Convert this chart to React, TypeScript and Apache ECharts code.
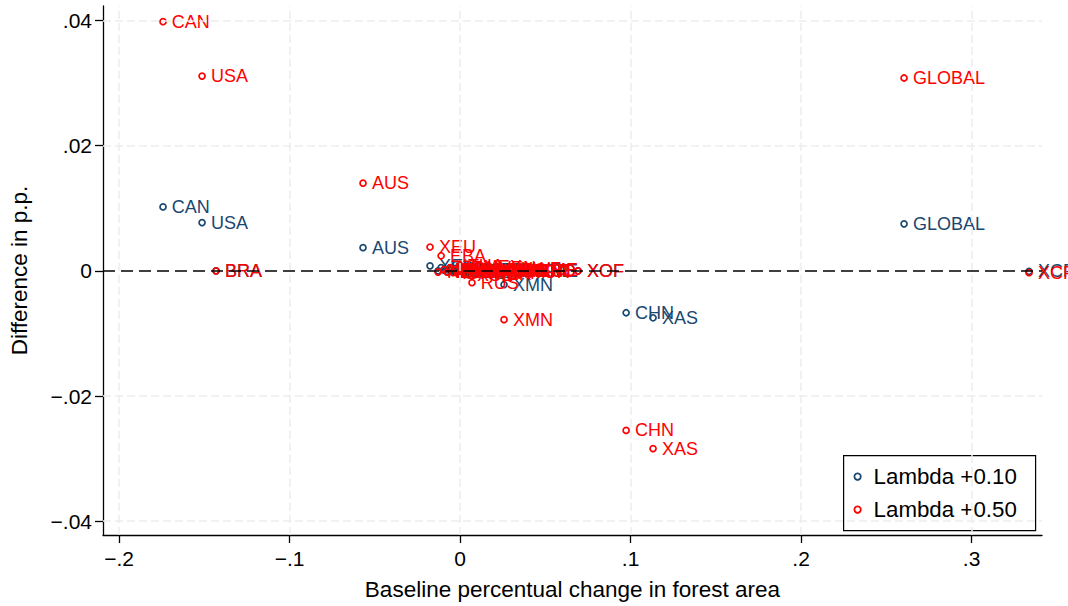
import React, { useEffect, useRef } from "react";
import * as echarts from "echarts";

// Region codes
const regions = [
  "CAN", "USA", "GLOBAL", "AUS", "XEU", "EBA", "BRA", "RUS", "XMN", "CHN", "XAS", "XCF", "XOF", "IND",
  "NZL", "JPN", "KOR", "XEA", "IDN", "MYS", "THA", "VNM", "PHL", "XSE", "XSA", "MEX", "ARG",
  "COL", "PER", "VEN", "XSM", "ZAF", "XSS", "XNF", "XWF", "XEC", "TUR", "XME",
];
// Baseline percentual change in forest area (x)
const baseline = [
  -0.1742, -0.1513, 0.2604, -0.0569, -0.0176, -0.0111, -0.1431, 0.0070, 0.0258, 0.0974, 0.1132, 0.3337, 0.0692, 0.0446,
  -0.0129, -0.0094, -0.0076, -0.0059, -0.0041, -0.0023, -0.0006, 0.0012, 0.0029, 0.0047, 0.0065, 0.0082, 0.0106,
  0.0129, 0.0152, 0.0176, 0.0199, 0.0223, 0.0246, 0.0276, 0.0305, 0.0340, 0.0375, 0.0411,
];
// Difference in p.p., Lambda +0.10
const diffLambda10 = [
  0.0102, 0.0077, 0.0075, 0.0037, 0.0008, 0.0005, 0.0000, -0.0004, -0.0022, -0.0067, -0.0075, -0.0001, 0.0000, 0.0000,
  0.0000, 0.0001, -0.0001, 0.0001, -0.0001, 0.0000, 0.0002, 0.0000, 0.0001, -0.0002, 0.0001, 0.0002, -0.0001,
  0.0000, -0.0001, 0.0001, 0.0000, -0.0001, 0.0000, -0.0001, 0.0001, 0.0000, -0.0001, 0.0000,
];
// Difference in p.p., Lambda +0.50
const diffLambda50 = [
  0.0398, 0.0311, 0.0308, 0.0140, 0.0038, 0.0024, 0.0000, -0.0019, -0.0078, -0.0255, -0.0284, -0.0003, 0.0000, 0.0000,
  -0.0002, 0.0002, -0.0002, 0.0005, -0.0003, 0.0002, 0.0008, -0.0002, 0.0003, -0.0006, 0.0002, 0.0006, -0.0002,
  0.0002, -0.0005, 0.0005, 0.0000, -0.0003, 0.0002, -0.0002, 0.0003, 0.0000, -0.0002, 0.0002,
];

const xTicks = [-0.2, -0.1, 0, 0.1, 0.2, 0.3];
const yTicks = [-0.04, -0.02, 0, 0.02, 0.04];
const seriesNames = ["Lambda +0.10", "Lambda +0.50"];
const seriesColors = ["#1a476f", "#ff0000"];

const FONT = "'Liberation Sans', Arial, Helvetica, sans-serif";

const fmt = (v: number) => {
  if (v === 0) return "0";
  const s = Math.abs(v).toString().replace(/^0/, "");
  return (v < 0 ? "\u2212" : "") + s;
};

export default function App() {
  const ref = useRef<HTMLDivElement>(null);
  useEffect(() => {
    if (!ref.current) return;
    const chart = echarts.init(ref.current, undefined, { renderer: "svg" });
    const diffs = [diffLambda10, diffLambda50];
    const scatterSeries = seriesNames.map((name, si) => ({
      name,
      type: "scatter",
      z: 3 + si,
      symbol: "circle",
      symbolSize: 6,
      itemStyle: { color: "rgba(255,255,255,0)", borderColor: seriesColors[si], borderWidth: 1.7, opacity: 1 },
      label: {
        show: true,
        position: "right",
        distance: 5,
        formatter: (p: any) => p.name,
        color: seriesColors[si],
        fontSize: 18,
        fontFamily: FONT,
      },
      labelLayout: { hideOverlap: false },
      emphasis: { disabled: true },
      data: regions.map((r, i) => ({ name: r, value: [baseline[i], diffs[si][i]] })),
    }));

    // Legend box drawn as graphic elements (Stata-style legend inside plot)
    const legendBox = {
      type: "group",
      left: 843,
      top: 455,
      z: 100,
      children: [
        {
          type: "rect",
          shape: { x: 0, y: 0, width: 192, height: 75 },
          style: { fill: "#fff", stroke: "#000", lineWidth: 1.2 },
        },
        ...seriesNames.flatMap((n, i) => [
          {
            type: "circle",
            shape: { cx: 14, cy: 21 + i * 33, r: 3.2 },
            style: { fill: "rgba(255,255,255,0)", stroke: seriesColors[i], lineWidth: 1.8 },
          },
          {
            type: "text",
            x: 30,
            y: 21 + i * 33,
            style: {
              text: n,
              fill: "#000",
              font: `22.3px ${FONT}`,
              verticalAlign: "middle",
              align: "left",
            },
          },
        ]),
      ],
    };

    const option: any = {
      animation: false,
      backgroundColor: "#fff",
      textStyle: { fontFamily: FONT },
      grid: { left: 103, right: 26, top: 6, bottom: 69 },
      xAxis: {
        type: "value",
        min: -0.2094,
        max: 0.3413,
        name: "Baseline percentual change in forest area",
        nameLocation: "middle",
        nameGap: 43,
        nameTextStyle: { fontSize: 22.5, color: "#000", fontFamily: FONT },
        axisLine: { show: true, onZero: false, lineStyle: { color: "#000", width: 1.3 } },
        axisTick: { show: true, length: 8, lineStyle: { color: "#000", width: 1.3 }, customValues: xTicks },
        axisLabel: { fontSize: 21, color: "#000", margin: 13, formatter: fmt, customValues: xTicks, fontFamily: FONT },
        splitLine: { show: false },
      },
      yAxis: {
        type: "value",
        min: -0.0422,
        max: 0.0423,
        name: "Difference in p.p.",
        nameLocation: "middle",
        nameGap: 72,
        nameRotate: 90,
        nameTextStyle: { fontSize: 22.5, color: "#000", fontFamily: FONT },
        axisLine: { show: true, onZero: false, lineStyle: { color: "#000", width: 1.3 } },
        axisTick: { show: true, length: 8, lineStyle: { color: "#000", width: 1.3 }, customValues: yTicks },
        axisLabel: { fontSize: 21, color: "#000", margin: 11, formatter: fmt, customValues: yTicks, fontFamily: FONT },
        splitLine: { show: false },
      },
      graphic: [legendBox],
      series: [
        {
          type: "scatter",
          name: "grid",
          data: [],
          z: 1,
          silent: true,
          markLine: {
            silent: true,
            symbol: ["none", "none"],
            label: { show: false },
            lineStyle: { color: "#ededed", type: [8, 4], width: 1.5 },
            data: [
              ...xTicks.map((v) => ({ xAxis: v })),
              ...yTicks.filter((v) => v !== 0).map((v) => ({ yAxis: v })),
            ],
          },
        },
        {
          type: "scatter",
          name: "zero",
          data: [],
          z: 2,
          silent: true,
          markLine: {
            silent: true,
            symbol: ["none", "none"],
            label: { show: false },
            lineStyle: { color: "#000", type: [12, 6], width: 1.5 },
            data: [{ yAxis: 0 }],
          },
        },
        ...scatterSeries,
      ],
    };
    chart.setOption(option);
    return () => chart.dispose();
  }, []);
  return (
    <div
      ref={ref}
      style={{ position: "absolute", left: 0, top: 0, width: 1068, height: 606, background: "#fff" }}
    />
  );
}
